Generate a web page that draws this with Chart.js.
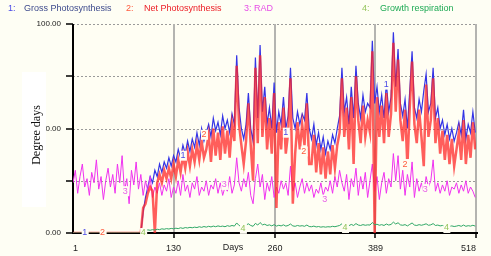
<!DOCTYPE html>
<html>
<head>
<meta charset="utf-8">
<script src="https://cdn.jsdelivr.net/npm/chart.js@4"></script>
<style>
  html, body { margin: 0; padding: 0; background: #fefef4; }
  #graf { display: block; }
</style>
</head>
<body>
<canvas id="graf" width="491" height="256"></canvas>
<script>
// dias simulados (passo de 3 dias)
const dias = [];
for (let d = 1; d <= 517; d += 3) dias.push(d);

const xTicks = [1, 130, 260, 389, 518];
const yTickLabels = { 0: '0.00', 25: '', 50: '0.00', 75: '', 100: '100.00' };

const seriesNames = ['Gross Photosynthesis', 'Net Photosynthesis', 'RAD', 'Growth respiration'];

const gross = [
  0,0,0,0,0,0,0,0,0,0, 0,0,0,0,0,0,0,0,0,0, 0,0,0,0,0,0,0,0,0,0,
  10,17,22,27,24,30,27,33,29,34, 31,36,32,37,34,40,36,42,38,44,
  39,45,41,48,42,50,44,48,52,46, 55,49,53,47,56,50,54,48,57,52,
  85,60,50,45,52,67,50,44,84,55, 90,58,70,52,60,50,72,48,58,52,
  65,50,56,79,55,50,58,52,57,54, 67,50,45,52,42,48,40,46,38,44,
  40,47,43,50,56,79,58,65,52,70, 55,80,62,55,66,58,62,60,92,62,
  70,58,66,55,72,58,65,96,70,88, 62,56,64,50,68,87,60,55,64,58,
  68,76,58,62,79,55,60,50,54,47, 52,45,50,44,48,53,47,59,45,52,
  48,58,48
];

const net = [
  0,0,0,0,0,0,0,0,0,0, 0,0,0,0,0,0,0,0,0,0, 0,0,0,0,0,0,0,0,0,0,
  12,14,19,22,20,0,24,28,24,30, 26,31,26,33,27,35,29,37,31,39,
  32,40,34,42,35,44,36,40,47,34, 50,37,48,35,51,38,49,36,52,44,
  80,52,42,33,44,62,42,25,79,43, 85,46,65,40,55,38,67,12,53,40,
  60,38,48,74,14,38,53,40,52,42, 62,33,33,47,29,43,28,41,26,39,
  28,42,31,42,48,74,46,60,40,65, 33,75,54,43,61,46,54,48,87,0,
  65,46,61,43,67,46,57,91,58,83, 54,44,59,32,60,82,52,43,59,46,
  32,71,46,54,74,43,55,38,49,35, 47,33,45,32,40,48,35,54,33,47,
  36,53,40
];

const rad = [
  24,30,19,27,33,22,26,18,29,24, 35,21,27,16,25,31,22,28,19,33,
  24,37,20,26,14,30,23,34,21,28, 18,25,20,27,17,22,19,24,18,23,
  20,26,17,22,19,25,18,28,20,23, 17,24,21,27,18,22,20,25,18,23,
  21,26,19,24,18,22,20,27,19,23, 36,24,20,26,22,29,18,14,26,33,
  22,28,16,24,20,27,17,22,19,25, 21,24,18,32,20,24,17,22,26,19,
  24,20,23,17,21,19,24,18,22,20, 25,19,27,22,30,24,20,28,16,26,
  22,31,18,27,21,29,17,25,33,20, 27,16,24,29,19,26,22,38,25,37,
  21,30,18,28,22,34,17,26,20,24, 19,27,22,25,35,20,24,19,23,20,
  25,18,22,21,24,19,23,20,25,19, 22,20,17
];

const growthResp = [
  0,0,0,0,0,0,0,0,0,0, 0,0,0,0,0,0,0,0,0,0, 0,0,0,0,0,0,0,0,0,0,
  1.0,1.2,1.5,1.3,1.6,1.4,1.8,1.6,2.0,1.8, 2.1,1.9,2.2,2.0,2.3,2.1,2.5,2.2,2.6,2.4,
  2.7,2.5,2.8,2.6,3.0,2.7,3.1,2.8,3.2,2.9, 3.3,3.0,3.4,3.1,3.3,3.0,3.5,3.2,3.6,3.3,
  4.8,3.6,3.2,3.5,3.8,4.4,3.6,3.2,4.6,3.8, 5.0,3.9,4.2,3.6,3.9,3.4,4.0,3.3,3.7,3.4,
  3.9,3.3,3.6,4.3,3.4,3.2,3.6,3.3,3.5,3.2, 3.8,3.1,3.0,3.3,2.9,3.1,2.8,3.0,2.8,3.0,
  2.9,3.2,3.0,3.3,3.6,4.4,3.7,4.0,3.5,4.1, 3.6,4.5,3.8,3.6,4.0,3.7,3.9,3.8,5.0,3.9,
  4.2,3.7,4.0,3.6,4.3,3.8,4.1,5.2,4.3,4.9, 3.9,3.7,4.0,3.4,4.1,4.8,3.8,3.6,4.0,3.7,
  4.0,4.4,3.7,3.9,4.5,3.6,3.8,3.4,3.6,3.3, 3.5,3.2,3.4,3.1,3.3,3.6,3.2,3.8,3.2,3.5,
  3.3,3.7,3.3
];

// etiquetas numericas sobre as curvas: [serie, dia, valor]
const curveLabels = [
  [0, 16, 0], [1, 39, 0], [3, 91, 0], [2, 68, 20],
  [0, 142, 37], [1, 169, 47], [2, 195, 23], [3, 219, 2],
  [0, 274, 48], [1, 297, 39], [2, 324, 16], [3, 350, 2.4],
  [0, 403, 71], [1, 427, 33], [2, 453, 21], [3, 480, 2.4]
];

const labelColors = ['#4a4ae6', '#ff5a3c', '#e860e8', '#94c45a'];

function pontos(valores) {
    return valores.map((v, i) => ({ x: dias[i], y: v }));
}

const fundoPlugin = {
    id: 'fundo',
    beforeDatasetsDraw(chart) {
        const ctx = chart.ctx;
        const a = chart.chartArea;
        const xs = chart.scales.x;
        const ys = chart.scales.y;
        ctx.save();
        ctx.fillStyle = '#fffef3';
        ctx.fillRect(a.left, a.top, a.right - a.left, a.bottom - a.top);

        // linhas horizontais pontilhadas
        ctx.strokeStyle = '#9a9a9a';
        ctx.lineWidth = 1;
        ctx.setLineDash([2, 2]);
        [25, 50, 75, 100].forEach(v => {
            const y = Math.round(ys.getPixelForValue(v)) + 0.5;
            ctx.beginPath();
            ctx.moveTo(a.left, y);
            ctx.lineTo(a.right, y);
            ctx.stroke();
        });
        ctx.setLineDash([]);

        // linhas verticais cinzas
        ctx.strokeStyle = '#b4b4b0';
        ctx.lineWidth = 2;
        [130, 260, 389, 518].forEach(v => {
            const x = Math.round(xs.getPixelForValue(v));
            ctx.beginPath();
            ctx.moveTo(x, a.top);
            ctx.lineTo(x, a.bottom);
            ctx.stroke();
        });

        // eixos pretos e marcas
        ctx.strokeStyle = '#000';
        ctx.lineWidth = 2;
        ctx.beginPath();
        ctx.moveTo(a.left, a.top);
        ctx.lineTo(a.left, a.bottom);
        ctx.lineTo(a.right + 2, a.bottom);
        ctx.stroke();
        ctx.lineWidth = 1.5;
        [0, 25, 50, 75, 100].forEach(v => {
            const y = Math.round(ys.getPixelForValue(v));
            ctx.beginPath();
            ctx.moveTo(a.left - 7, y);
            ctx.lineTo(a.left, y);
            ctx.stroke();
        });
        [130, 260, 389, 518].forEach(v => {
            const x = Math.round(xs.getPixelForValue(v));
            ctx.beginPath();
            ctx.moveTo(x, a.bottom);
            ctx.lineTo(x, a.bottom + 5);
            ctx.stroke();
        });
        ctx.restore();
    },
    afterDatasetsDraw(chart) {
        const ctx = chart.ctx;
        const xs = chart.scales.x;
        const ys = chart.scales.y;
        ctx.save();
        ctx.font = '9px "Liberation Sans", Arial, sans-serif';
        ctx.textAlign = 'center';
        ctx.textBaseline = 'middle';
        curveLabels.forEach(l => {
            const x = xs.getPixelForValue(l[1]);
            const y = ys.getPixelForValue(l[2]);
            ctx.fillStyle = '#fffef3';
            ctx.fillRect(x - 3, y - 5, 7, 10);
            ctx.fillStyle = labelColors[l[0]];
            ctx.fillText(String(l[0] + 1), x, y);
        });
        ctx.restore();
    },
    afterDraw(chart) {
        const ctx = chart.ctx;
        ctx.save();
        // titulo do eixo y
        ctx.fillStyle = '#ffffff';
        ctx.fillRect(22, 72, 24, 135);
        ctx.translate(37, 135);
        ctx.rotate(-Math.PI / 2);
        ctx.font = '12px "Liberation Serif", "Times New Roman", serif';
        ctx.fillStyle = '#111';
        ctx.textAlign = 'center';
        ctx.textBaseline = 'middle';
        ctx.fillText('Degree days', 0, 0);
        ctx.restore();

        ctx.save();
        ctx.font = '9px "Liberation Sans", Arial, sans-serif';
        ctx.fillStyle = '#222';
        ctx.textAlign = 'center';
        ctx.textBaseline = 'middle';
        ctx.fillText('Days', 233, 248);

        // legenda superior
        ctx.textAlign = 'left';
        const leg = [
            [8, '1:', '#4a4ae6'], [24, seriesNames[0], '#3d4a8c'],
            [126, '2:', '#ff5a3c'], [144, seriesNames[1], '#ec1c24'],
            [244, '3: ' + seriesNames[2], '#e64ee6'],
            [362, '4:', '#94c45a'], [380, seriesNames[3], '#1faa55']
        ];
        leg.forEach(l => {
            ctx.fillStyle = l[2];
            ctx.fillText(l[1], l[0], 9);
        });
        ctx.restore();
    }
};

const ctx = document.getElementById('graf').getContext('2d');

new Chart(ctx, {
    type: 'line',
    data: {
        datasets: [
            { label: seriesNames[3], data: pontos(growthResp), borderColor: '#2fa866', borderWidth: 1, order: 0 },
            { label: seriesNames[1], data: pontos(net), borderColor: 'rgba(255,38,38,0.74)', borderWidth: 2.5, order: 1 },
            { label: seriesNames[2], data: pontos(rad), borderColor: '#f032f0', borderWidth: 1, order: 2 },
            { label: seriesNames[0], data: pontos(gross), borderColor: '#3434e6', borderWidth: 1.2, order: 3 }
        ]
    },
    options: {
        responsive: false,
        animation: false,
        devicePixelRatio: 1,
        elements: { point: { radius: 0 }, line: { tension: 0 } },
        layout: { padding: { top: 24, right: 15, left: 0, bottom: 0 } },
        plugins: { legend: { display: false }, tooltip: { enabled: false } },
        scales: {
            x: {
                type: 'linear',
                min: 1,
                max: 518,
                afterBuildTicks: scale => { scale.ticks = xTicks.map(v => ({ value: v })); },
                afterFit: scale => { scale.height = 23; },
                grid: { display: false, drawTicks: false },
                border: { display: false },
                ticks: {
                    autoSkip: false,
                    maxRotation: 0,
                    align: 'inner',
                    padding: 10,
                    color: '#222',
                    font: { size: 9, family: '"Liberation Sans", Arial, sans-serif' },
                    callback: v => String(v)
                }
            },
            y: {
                min: 0,
                max: 100,
                afterFit: scale => { scale.width = 73; },
                grid: { display: false, drawTicks: false },
                border: { display: false },
                ticks: {
                    stepSize: 25,
                    padding: 12,
                    color: '#222',
                    font: { size: 8, family: '"Liberation Sans", Arial, sans-serif' },
                    callback: v => yTickLabels[v]
                }
            }
        }
    },
    plugins: [fundoPlugin]
});
</script>
</body>
</html>
